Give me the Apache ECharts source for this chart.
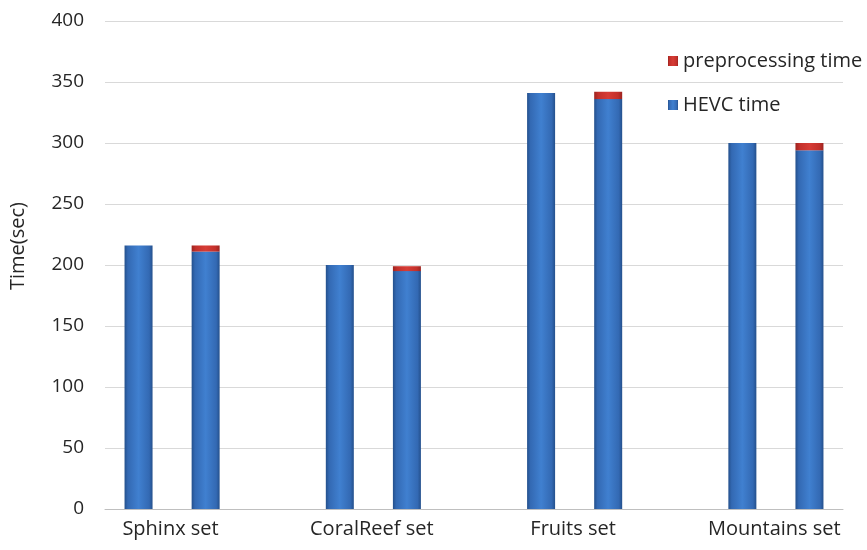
<!DOCTYPE html>
<html>
<head>
<meta charset="utf-8">
<script src="https://cdn.jsdelivr.net/npm/echarts@6/dist/echarts.min.js"></script>
<style>html,body{margin:0;padding:0;background:#fff}#c{width:867px;height:550px}</style>
</head>
<body>
<div id="c"></div>
<script>
// Data
var categories = ['Sphinx set', 'CoralReef set', 'Fruits set', 'Mountains set'];
var hevcOnly = [216, 200, 341, 300];      // first bar: HEVC time without preprocessing
var hevcWithPre = [211, 195, 336, 294];   // second bar: HEVC time part
var preprocessing = [5, 4, 6, 6];         // second bar: preprocessing time part
var yTicks = [0, 50, 100, 150, 200, 250, 300, 350, 400];

// Build 11 slot category axis: bar1, bar2, gap, ...
var slots = [], hevcData = [], preData = [];
categories.forEach(function (c, g) {
  slots.push(c); hevcData.push(hevcOnly[g]); preData.push('-');
  slots.push(c); hevcData.push(hevcWithPre[g]); preData.push(preprocessing[g]);
  if (g < categories.length - 1) { slots.push(''); hevcData.push('-'); preData.push('-'); }
});

var font = 'Open Sans';
var blue = new echarts.graphic.LinearGradient(0, 0, 1, 0, [
  {offset: 0, color: '#24508c'}, {offset: 0.12, color: '#3369b3'},
  {offset: 0.5, color: '#4080d0'}, {offset: 0.88, color: '#3369b3'}, {offset: 1, color: '#24508c'}
]);
var red = new echarts.graphic.LinearGradient(0, 0, 1, 0, [
  {offset: 0, color: '#9c2420'}, {offset: 0.15, color: '#c3302b'},
  {offset: 0.5, color: '#d63c36'}, {offset: 0.85, color: '#c3302b'}, {offset: 1, color: '#9c2420'}
]);

var chart = echarts.init(document.getElementById('c'), null, {renderer: 'canvas'});
chart.setOption({
  animation: false,
  backgroundColor: '#fff',
  grid: {left: 100, right: 24, top: 21, bottom: 41, containLabel: false},
  legend: {
    orient: 'vertical', left: 663, top: 45, itemWidth: 10, itemHeight: 10, itemGap: 22,
    icon: 'rect',
    textStyle: {fontFamily: font, fontSize: 20, color: '#262626', lineHeight: 22},
    data: ['preprocessing time', 'HEVC time']
  },
  xAxis: {
    type: 'category', data: slots,
    axisLine: {lineStyle: {color: '#bfbfbf', width: 1}},
    axisTick: {show: false},
    axisLabel: {
      interval: function (i) { return i % 3 === 0; },
      margin: 10,
      formatter: function (v) { return '{a|' + v + '}'; },
      rich: {a: {fontFamily: font, fontSize: 20, color: '#262626', padding: [0, 0, 0, 64]}}
    }
  },
  yAxis: {
    type: 'value', min: yTicks[0], max: yTicks[yTicks.length - 1], interval: 50,
    name: 'Time(sec)', nameLocation: 'middle', nameGap: 77, nameRotate: 90,
    nameTextStyle: {fontFamily: font, fontSize: 20, color: '#262626', padding: [0, 0, 0, 38]},
    axisLine: {show: false}, axisTick: {show: false},
    axisLabel: {fontFamily: font, fontSize: 19, color: '#262626', margin: 21},
    splitLine: {lineStyle: {color: '#d9d9d9', width: 1}}
  },
  series: [
    {name: 'HEVC time', type: 'bar', stack: 's', barWidth: 28, data: hevcData,
     itemStyle: {color: blue}},
    {name: 'preprocessing time', type: 'bar', stack: 's', barWidth: 28, data: preData,
     itemStyle: {color: red}}
  ]
});
</script>
</body>
</html>
